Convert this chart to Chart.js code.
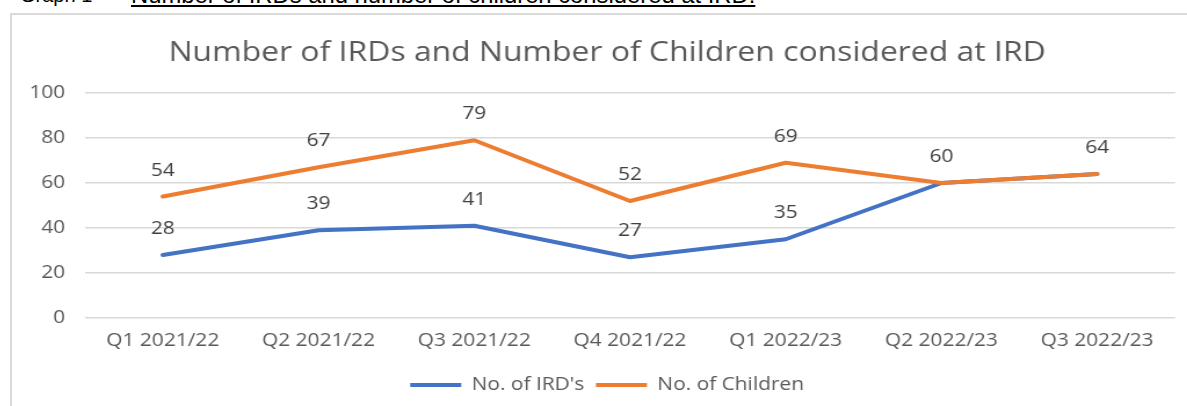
<!DOCTYPE html>
<html>
<head>
<meta charset="utf-8">
<script src="https://cdn.jsdelivr.net/npm/chart.js@4"></script>
<style>
  body { margin: 0; background: #fff; width: 1187px; height: 406px; overflow: hidden; position: relative; }
  .caption { position: absolute; top: -16px; font-family: "Liberation Sans", Arial, sans-serif; line-height: 22px; color: #000; white-space: nowrap; }
  .caption.num { left: 20px; font-size: 20px; }
  .caption.ttl { left: 131px; font-size: 23.8px; text-decoration: underline; text-decoration-thickness: 2px; text-underline-offset: 2px; }
  .frame { position: absolute; left: 10px; top: 13px; width: 1200px; height: 420px; border: 2px solid #d9d9d9; }
  /* chart sits inside the frame, runs past the right edge, and is widened a little */
  .wrap { position: absolute; left: 12px; top: 0; width: 1026px; height: 406px; transform: scaleX(1.16); transform-origin: 0 0; }
</style>
</head>
<body>
<div class="caption num">Graph 1 &ndash;</div>
<div class="caption ttl">Number of IRDs and number of children considered at IRD.</div>
<div class="frame"></div>
<div class="wrap"><canvas id="irdChart"></canvas></div>

<script>
// Quarters and counts
var quarters = ['Q1 2021/22', 'Q2 2021/22', 'Q3 2021/22', 'Q4 2021/22', 'Q1 2022/23', 'Q2 2022/23', 'Q3 2022/23'];
var irdCounts = [28, 39, 41, 27, 35, 60, 64];
var childCounts = [54, 67, 79, 52, 69, 60, 64];
var yTicks = [0, 20, 40, 60, 80, 100];

var FONT = '"Open Sans", "Noto Sans", sans-serif';

// Writes each point's value just above it (once, where both lines share a point)
var valueLabels = {
    id: 'valueLabels',
    afterDatasetsDraw: function(chart) {
        var ctx = chart.ctx;
        var done = {};
        ctx.save();
        ctx.font = '18px ' + FONT;
        ctx.fillStyle = '#404040';
        ctx.textAlign = 'center';
        ctx.textBaseline = 'middle';
        chart.data.datasets.forEach(function(ds, i) {
            var meta = chart.getDatasetMeta(i);
            meta.data.forEach(function(pt, j) {
                var key = j + ':' + ds.data[j];
                if (done[key]) return;
                done[key] = true;
                ctx.fillText(ds.data[j], pt.x, pt.y - 26);
            });
        });
        ctx.restore();
    }
};

// y labels are clipped to the axis box; let that box reach the canvas edge
var yLabelRoom = {
    id: 'yLabelRoom',
    afterLayout: function(chart) {
        chart.scales.y.left = 0;
    }
};

var ctx = document.getElementById('irdChart').getContext('2d');

var irdChart = new Chart(ctx, {
    type: 'line',
    data: {
        labels: quarters,
        datasets: [{
            label: "No. of IRD's",
            data: irdCounts,
            borderColor: '#4472c4',
            backgroundColor: '#4472c4',
            borderWidth: 4,
            pointRadius: 0,
            borderCapStyle: 'round',
            borderJoinStyle: 'round',
            order: 1
        }, {
            label: 'No. of Children',
            data: childCounts,
            borderColor: '#ed7d31',
            backgroundColor: '#ed7d31',
            borderWidth: 4,
            pointRadius: 0,
            borderCapStyle: 'round',
            borderJoinStyle: 'round',
            order: 0   // orange sits on top where the lines meet
        }]
    },
    options: {
        responsive: true,
        maintainAspectRatio: false,
        animation: false,
        layout: {
            padding: { top: 37, left: 23.4, right: 23.4, bottom: 2 }
        },
        scales: {
            x: {
                offset: true,
                grid: { display: false, drawTicks: false },
                border: { display: false },
                ticks: {
                    color: '#595959',
                    font: { family: FONT, size: 18 },
                    padding: 12,
                    maxRotation: 0,
                    autoSkip: false
                },
                afterFit: function(scale) { scale.height = 48; }
            },
            y: {
                min: 0,
                max: 100,
                border: { display: false },
                grid: { color: '#d9d9d9', lineWidth: 1.5, drawTicks: false },
                afterBuildTicks: function(scale) {
                    scale.ticks = yTicks.map(function(v) { return { value: v }; });
                },
                ticks: {
                    color: '#595959',
                    font: { family: FONT, size: 18 },
                    padding: 17
                },
                afterFit: function(scale) { scale.width = 39.5; }
            }
        },
        plugins: {
            title: {
                display: true,
                text: 'Number of IRDs and Number of Children considered at IRD',
                color: '#595959',
                font: { family: FONT, size: 27.5, weight: 'normal' },
                padding: { top: 0, bottom: 23 }
            },
            legend: {
                position: 'bottom',
                labels: {
                    usePointStyle: true,
                    pointStyle: 'line',
                    pointStyleWidth: 44,
                    color: '#595959',
                    font: { family: FONT, size: 18 },
                    padding: 10,
                    sort: function(a, b) { return a.datasetIndex - b.datasetIndex; }
                }
            },
            tooltip: { enabled: false }
        }
    },
    plugins: [valueLabels, yLabelRoom]
});
</script>
</body>
</html>
